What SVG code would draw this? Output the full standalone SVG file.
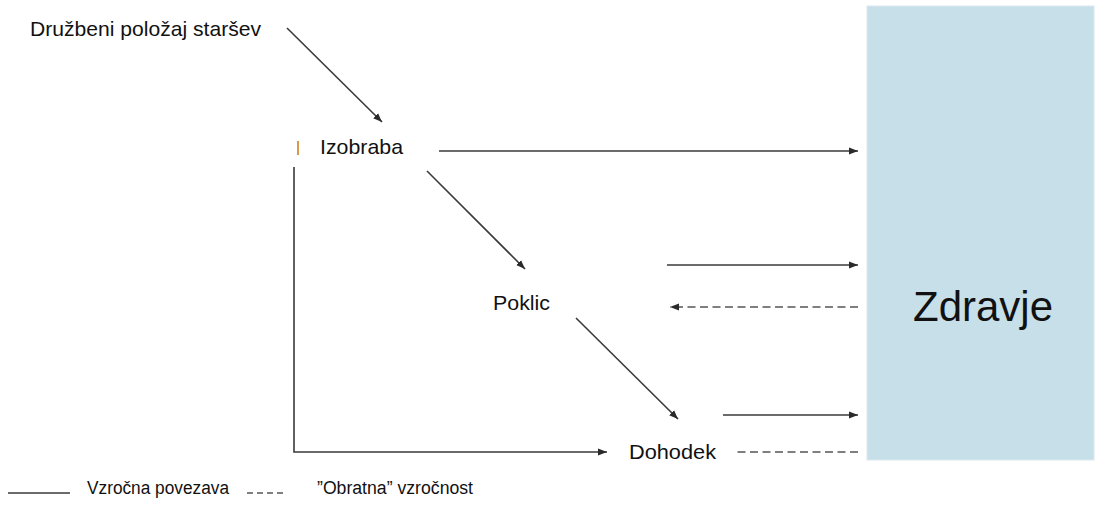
<svg xmlns="http://www.w3.org/2000/svg" width="1099" height="508" viewBox="0 0 1099 508">
<style>
text{font-family:"Liberation Sans",Arial,sans-serif;fill:#111}
.lbl{font-size:21px}
.leg{font-size:18px}
.ln{stroke:#3a3a3a;stroke-width:1.6;fill:none}
.ds{stroke:#555;stroke-width:1.6;fill:none;stroke-dasharray:8 4.5}
</style>
<defs>
<marker id="ah" markerUnits="userSpaceOnUse" markerWidth="10" markerHeight="8" refX="9" refY="4" orient="auto">
<path d="M0,0.5 L9,4 L0,7.5 z" fill="#2a2a2a"/>
</marker>
</defs>
<rect width="1099" height="508" fill="#fff"/>
<g id="zdravje">
<rect x="867" y="6" width="227" height="454" fill="#c7dfe9" stroke="#dbe9ef" stroke-width="1"/>
<text x="913" y="321" font-size="43" textLength="140" lengthAdjust="spacingAndGlyphs">Zdravje</text>
</g>
<g id="druzbeni">
<text class="lbl" x="30" y="36" textLength="231" lengthAdjust="spacingAndGlyphs">Družbeni položaj staršev</text>
</g>
<g id="izobraba">
<line x1="298" y1="141" x2="298" y2="155" stroke="#d08020" stroke-width="1.6"/>
<text class="lbl" x="320" y="154" textLength="83" lengthAdjust="spacingAndGlyphs">Izobraba</text>
</g>
<g id="poklic">
<text class="lbl" x="493" y="310" textLength="57" lengthAdjust="spacingAndGlyphs">Poklic</text>
</g>
<g id="dohodek">
<text class="lbl" x="629" y="459" textLength="87" lengthAdjust="spacingAndGlyphs">Dohodek</text>
</g>
<g id="connectors">
<line class="ln" x1="287" y1="28" x2="382" y2="122" marker-end="url(#ah)"/>
<line class="ln" x1="439" y1="151" x2="858" y2="151" marker-end="url(#ah)"/>
<line class="ln" x1="427" y1="171" x2="525" y2="269" marker-end="url(#ah)"/>
<line class="ln" x1="667" y1="265" x2="858" y2="265" marker-end="url(#ah)"/>
<line class="ds" x1="858" y1="307" x2="670" y2="307" marker-end="url(#ah)"/>
<line class="ln" x1="576" y1="318" x2="678" y2="419" marker-end="url(#ah)"/>
<line class="ln" x1="723" y1="415" x2="858" y2="415" marker-end="url(#ah)"/>
<polyline class="ln" points="294,167 294,452 607,452" marker-end="url(#ah)"/>
<line class="ds" x1="858" y1="452" x2="737" y2="452"/>
</g>
<g id="legend">
<line x1="8" y1="493" x2="70" y2="493" stroke="#3a3a3a" stroke-width="1.5"/>
<text class="leg" x="87" y="494" textLength="142" lengthAdjust="spacingAndGlyphs">Vzročna povezava</text>
<line x1="247" y1="493" x2="283" y2="493" stroke="#555" stroke-width="1.5" stroke-dasharray="6 4"/>
<text class="leg" x="317" y="494" textLength="156" lengthAdjust="spacingAndGlyphs">”Obratna” vzročnost</text>
</g>
</svg>
